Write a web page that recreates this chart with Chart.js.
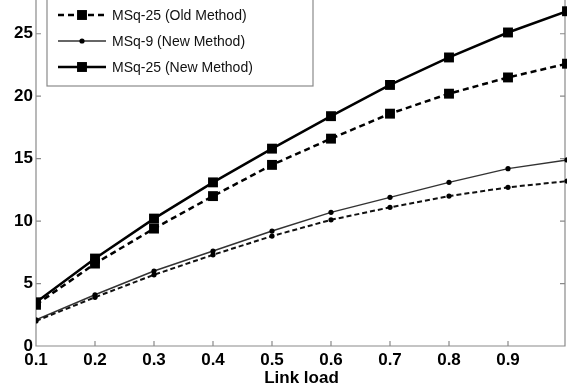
<!DOCTYPE html>
<html>
<head>
<meta charset="utf-8">
<script src="https://cdn.jsdelivr.net/npm/chart.js@4.4.0/dist/chart.umd.min.js"></script>
<style>
  html, body { margin: 0; padding: 0; background: #fff; }
  #wrap { width: 567px; height: 387px; }
</style>
</head>
<body>
<div id="wrap"><canvas id="chart" width="567" height="387"></canvas></div>
<script>
// values
const loads = [0.1, 0.2, 0.3, 0.4, 0.5, 0.6, 0.7, 0.8, 0.9, 1.0];
const msq9Old = [2.0, 3.9, 5.7, 7.3, 8.8, 10.1, 11.1, 12.0, 12.7, 13.2];
const msq25Old = [3.3, 6.6, 9.4, 12.0, 14.5, 16.6, 18.6, 20.2, 21.5, 22.6];
const msq9New = [2.1, 4.1, 6.0, 7.6, 9.2, 10.7, 11.9, 13.1, 14.2, 14.9];
const msq25New = [3.5, 7.0, 10.2, 13.1, 15.8, 18.4, 20.9, 23.1, 25.1, 26.8];
const xTicks = [0.1, 0.2, 0.3, 0.4, 0.5, 0.6, 0.7, 0.8, 0.9];
const yTicks = [0, 5, 10, 15, 20, 25];
const labels = ['MSq-9 (Old Method)', 'MSq-25 (Old Method)', 'MSq-9 (New Method)', 'MSq-25 (New Method)'];

function points(ys) {
    return loads.map((x, i) => ({ x: x, y: ys[i] }));
}

function series(label, ys, big, dashed) {
    return {
        label: label,
        data: points(ys),
        borderColor: big ? '#000' : (dashed ? '#111' : '#333'),
        backgroundColor: '#000',
        borderWidth: big ? 2.5 : (dashed ? 2 : 1.5),
        borderDash: dashed ? (big ? [6, 4] : [5, 3]) : [],
        pointStyle: big ? 'rect' : 'circle',
        pointRadius: big ? 7 : 2.6,
        pointBorderWidth: 0,
        pointBackgroundColor: '#000',
        tension: 0
    };
}

// box round the plot with inward ticks, plus the legend inside it
const framePlugin = {
    id: 'frame',
    beforeDatasetsDraw(chart) {
        const ctx = chart.ctx;
        const a = chart.chartArea;
        const xs = chart.scales.x, ys = chart.scales.y;
        const r = a.right - 2;
        ctx.save();
        ctx.strokeStyle = '#8a8a8a';
        ctx.lineWidth = 1.2;
        ctx.beginPath();
        ctx.moveTo(a.left, a.top);
        ctx.lineTo(a.left, a.bottom);
        ctx.lineTo(r, a.bottom);
        ctx.lineTo(r, a.top);
        xTicks.forEach(v => {
            const px = xs.getPixelForValue(v);
            ctx.moveTo(px, a.bottom);
            ctx.lineTo(px, a.bottom - 5);
        });
        yTicks.forEach(v => {
            const py = ys.getPixelForValue(v);
            ctx.moveTo(a.left, py);
            ctx.lineTo(a.left + 5, py);
            ctx.moveTo(r, py);
            ctx.lineTo(r - 5, py);
        });
        ctx.stroke();
        ctx.restore();
    },
    afterDatasetsDraw(chart) {
        const ctx = chart.ctx;
        ctx.save();
        ctx.fillStyle = '#fff';
        ctx.strokeStyle = '#8a8a8a';
        ctx.lineWidth = 1.2;
        ctx.fillRect(47, -30, 266, 116);
        ctx.strokeRect(47, -30, 266, 116);
        chart.data.datasets.forEach((ds, i) => {
            const y = -11 + i * 26;
            ctx.strokeStyle = ds.borderColor;
            ctx.lineWidth = ds.borderWidth;
            ctx.setLineDash(ds.borderDash);
            ctx.beginPath();
            ctx.moveTo(58, y);
            ctx.lineTo(106, y);
            ctx.stroke();
            ctx.setLineDash([]);
            ctx.fillStyle = '#000';
            if (ds.pointStyle === 'rect') {
                const s = ds.pointRadius * Math.SQRT1_2;
                ctx.fillRect(82 - s, y - s, 2 * s, 2 * s);
            } else {
                ctx.beginPath();
                ctx.arc(82, y, ds.pointRadius, 0, Math.PI * 2);
                ctx.fill();
            }
            ctx.fillStyle = '#111';
            ctx.font = '14px "Liberation Sans", Arial, sans-serif';
            ctx.textBaseline = 'middle';
            ctx.fillText(ds.label, 112, y + 1);
        });
        ctx.restore();
    }
};

const chartEl = document.getElementById('chart');

new Chart(chartEl, {
    type: 'line',
    data: {
        datasets: [
            series(labels[0], msq9Old, false, true),
            series(labels[1], msq25Old, true, true),
            series(labels[2], msq9New, false, false),
            series(labels[3], msq25New, true, false)
        ]
    },
    options: {
        responsive: false,
        animation: false,
        layout: { padding: 0, autoPadding: false },
        plugins: {
            legend: { display: false },
            tooltip: { enabled: false }
        },
        scales: {
            x: {
                type: 'linear',
                min: 0.1,
                max: 1.0,
                afterBuildTicks: s => { s.ticks = xTicks.map(v => ({ value: v })); },
                afterFit: s => { s.height = 41; s.paddingLeft = 0; s.paddingRight = 0; },
                grid: { display: false, drawTicks: false },
                border: { display: false },
                ticks: {
                    color: '#000',
                    padding: 4,
                    maxRotation: 0,
                    autoSkip: false,
                    font: { family: '"Liberation Sans", Arial, sans-serif', size: 17, weight: 'bold' },
                    callback: v => v.toFixed(1)
                },
                title: {
                    display: true,
                    text: 'Link load',
                    color: '#000',
                    padding: { top: 0, bottom: -2 },
                    font: { family: '"Liberation Sans", Arial, sans-serif', size: 17, weight: 'bold' }
                }
            },
            y: {
                type: 'linear',
                min: 0,
                max: 27.7,
                afterBuildTicks: s => { s.ticks = yTicks.map(v => ({ value: v })); },
                afterFit: s => { s.width = 36; s.paddingTop = 0; s.paddingBottom = 0; },
                grid: { display: false, drawTicks: false },
                border: { display: false },
                ticks: {
                    color: '#000',
                    padding: 3,
                    font: { family: '"Liberation Sans", Arial, sans-serif', size: 17, weight: 'bold' }
                }
            }
        }
    },
    plugins: [framePlugin]
});
</script>
</body>
</html>
